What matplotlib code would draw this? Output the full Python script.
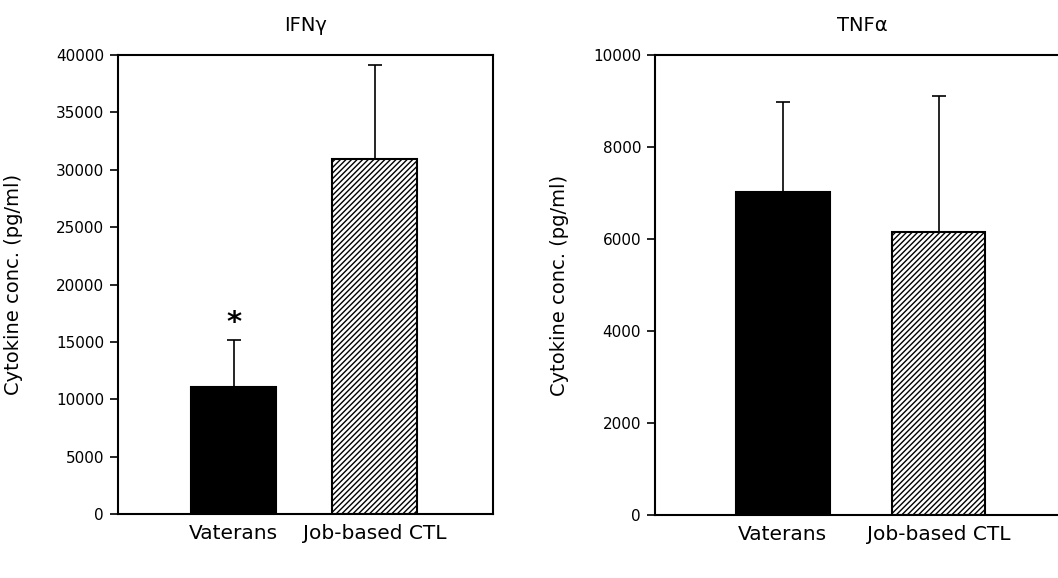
import numpy as np
import matplotlib.pyplot as plt

groups = ["Vaterans", "Job-based CTL"]

ifn_mean = [11100, 30950]
ifn_err = [4100, 8200]

tnf_mean = [7030, 6150]
tnf_err = [1940, 2950]

ifn_ticks = np.arange(0, 40001, 5000)
tnf_ticks = np.arange(0, 10001, 2000)

# significance marks, one per group ("" = none)
ifn_sig = ["*", ""]

plt.rcParams["font.family"] = ["DejaVu Sans"]
plt.rcParams["hatch.linewidth"] = 1.0

fig = plt.figure(figsize=(10.58, 5.78), dpi=100)
ax1 = fig.add_axes([0.1115, 0.1107, 0.3544, 0.794])
ax2 = fig.add_axes([0.619, 0.109, 0.392, 0.796])

x = np.arange(len(groups))


def draw(ax, mean, err, ticks, title, label_x):
    ax.bar(x, mean, width=0.6, color=["black", "white"], edgecolor="black",
           linewidth=1.5, hatch=["", "//////"], zorder=2)
    ax.errorbar(x, mean, yerr=[np.zeros(len(err)), err], fmt="none",
                ecolor="black", elinewidth=1.2, capsize=5, capthick=1.2, zorder=1)
    ax.set_xlim(-0.82, 1.84)
    ax.set_ylim(ticks[0], ticks[-1])
    ax.set_yticks(ticks)
    ax.set_xticks(x)
    ax.set_xticklabels(groups, fontsize=14.5)
    ax.tick_params(axis="x", length=0, pad=7)
    ax.tick_params(axis="y", direction="out", length=6, width=1.2, labelsize=11, pad=4)
    for s in ax.spines.values():
        s.set_linewidth(1.5)
    ax.set_ylabel("Cytokine conc. (pg/ml)", fontsize=14)
    ax.yaxis.set_label_coords(label_x, 0.5)
    ax.set_title(title, fontsize=14, pad=17)


draw(ax1, ifn_mean, ifn_err, ifn_ticks, "IFN\u03b3", -0.253)
draw(ax2, tnf_mean, tnf_err, tnf_ticks, "TNF\u03b1", -0.206)

for xi, m, e, s in zip(x, ifn_mean, ifn_err, ifn_sig):
    if s:
        ax1.annotate(s, xy=(xi, m + e), xytext=(0, 2), textcoords="offset points",
                     ha="center", va="bottom", fontsize=21, fontweight="bold")

fig.savefig("out.png", dpi=100)
